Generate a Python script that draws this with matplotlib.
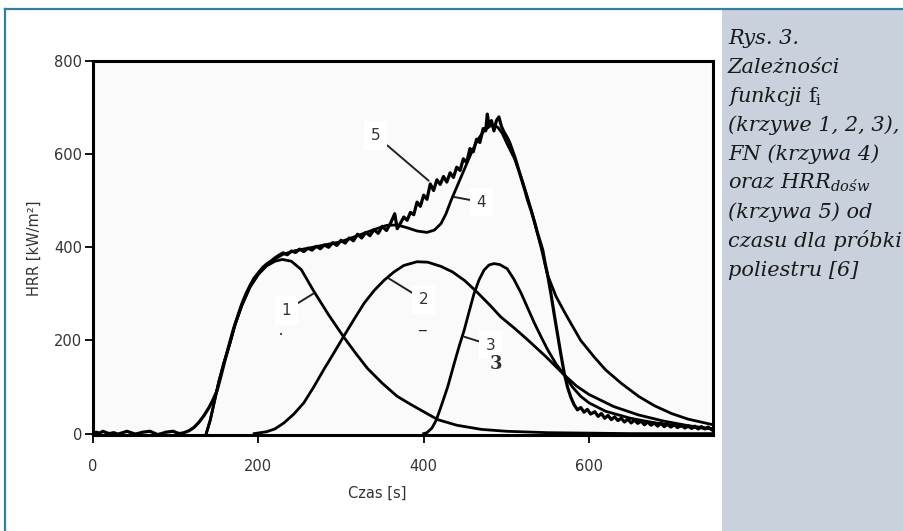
import matplotlib
matplotlib.use("Agg")
from matplotlib import pyplot as plt
from matplotlib.patches import Rectangle
from matplotlib.lines import Line2D

# Krzywa 1 (f1)
c1_x = [137, 142, 147, 152, 158, 165, 172, 180, 190, 200, 210, 220, 229, 240, 252, 267, 285,
        303, 318, 332, 350, 368, 385, 396, 417, 440, 470, 500, 550, 600, 650, 700, 750]
c1_y = [0, 30, 70, 110, 150, 190, 235, 275, 315, 342, 360, 370, 374, 370, 352, 306, 255,
        208, 172, 140, 108, 80, 62, 51, 30, 18, 9, 5, 2, 1, 0, 0, 0]

# Krzywa 2 (f2)
c2_x = [195, 210, 220, 231, 243, 255, 267, 279, 291, 303, 316, 328, 340, 352, 364, 376, 392, 405,
        421, 435, 450, 465, 480, 493, 510, 526, 548, 570, 585, 600, 630, 660, 690, 720, 750]
c2_y = [0, 4, 10, 23, 42, 66, 100, 137, 172, 208, 246, 280, 307, 329, 347, 361, 369, 368,
        359, 347, 328, 303, 276, 251, 226, 201, 165, 126, 102, 84, 58, 40, 27, 17, 10]

# Krzywa 3 (f3)
c3_x = [400, 404, 410, 415, 421, 429, 437, 443, 449, 455, 461, 467, 473, 479, 485, 492, 501,
        509, 518, 526, 534, 542, 550, 560, 570, 580, 590, 600, 620, 650, 680, 710, 750]
c3_y = [0, 2, 12, 28, 58, 100, 151, 188, 222, 262, 301, 330, 351, 362, 365, 363, 354,
        332, 301, 269, 237, 208, 180, 150, 126, 100, 80, 66, 48, 33, 23, 16, 10]

# Krzywa 4 (FN)
c4_x = [137, 142, 147, 152, 158, 165, 172, 180, 190, 200, 210, 220, 230, 245, 260, 280, 300,
        320, 340, 355, 368, 380, 392, 404, 413, 421, 427, 433, 439, 445, 451, 457, 465, 473,
        480, 485, 490, 495, 501, 510, 518, 526, 534, 542, 550, 560, 570, 578, 590, 606, 620,
        639, 660, 679, 700, 720, 750]
c4_y = [0, 30, 70, 110, 150, 190, 235, 275, 315, 342, 362, 375, 385, 393, 398, 405, 412,
        425, 438, 447, 448, 442, 435, 432, 437, 451, 472, 500, 525, 550, 575, 600, 630, 650,
        660, 662, 657, 645, 622, 590, 550, 505, 455, 400, 340, 295, 262, 237, 200, 165, 137,
        108, 80, 60, 43, 31, 19]

# Krzywa 5 (HRR doswiadczalne)
exp_base_x = [0, 4, 8, 12, 16, 20, 25, 30, 36, 41, 46, 51, 56, 60, 65, 69, 74, 78, 83, 88,
              93, 97, 101, 105, 110]
exp_base_y = [-2, 3, 1, 5, 2, 0, 2, -1, 2, 5, 2, -1, 1, 3, 4, 5, 1, -2, 0, 3, 4, 5, 2, 0, 2]
exp_rise_x = [116, 122, 128, 134, 140, 145, 150, 155, 160, 165, 170, 175, 180, 185, 190, 195,
              200, 205, 210, 215, 220]
exp_rise_y = [6, 13, 24, 38, 55, 72, 92, 125, 160, 193, 225, 252, 278, 300, 318, 334,
              345, 356, 364, 370, 377]
exp_plat_x = [225, 230, 235, 240, 245, 250, 255, 260, 265, 270, 275, 280, 285, 290, 295, 300,
              305, 310, 315, 320, 325, 330, 335, 340, 345, 350, 355, 360]
exp_plat_y = [383, 388, 384, 392, 389, 396, 391, 398, 394, 402, 397, 405, 400, 410, 404, 415,
              409, 420, 414, 428, 420, 432, 425, 438, 430, 445, 436, 452]
exp_peak_x = [365, 368, 372, 376, 380, 384, 388, 392, 396, 400, 404, 408, 412, 416, 420, 424,
              428, 432, 436, 440, 444, 448, 452, 456, 460, 464, 468, 472, 475, 477, 479, 482,
              485, 488, 491, 494, 497, 501, 504, 507, 511, 514, 518, 522, 526, 530, 534, 537,
              541, 544, 547, 550, 554, 558, 562, 566, 570, 574, 578, 582, 586]
exp_peak_y = [472, 440, 452, 465, 458, 475, 470, 497, 488, 512, 503, 536, 522, 545, 535, 552,
              540, 560, 550, 572, 565, 590, 582, 612, 605, 632, 625, 655, 650, 686, 662, 672,
              650, 672, 680, 660, 648, 636, 625, 610, 590, 572, 548, 525, 500, 479, 455, 435,
              412, 394, 365, 340, 300, 255, 212, 170, 130, 100, 78, 62, 51]
exp_tail_x = [590, 594, 598, 602, 607, 611, 615, 619, 623, 627, 631, 635, 639, 643, 647, 651,
              655, 659, 663, 667, 671, 675, 679, 683, 687, 691, 695, 699, 703, 707, 712, 716,
              720, 724, 728, 732, 736, 740, 744, 748]
exp_tail_y = [56, 46, 52, 42, 47, 37, 43, 33, 39, 30, 36, 28, 33, 25, 31, 23,
              29, 22, 27, 19, 25, 18, 23, 16, 22, 15, 20, 14, 19, 13, 18, 12,
              17, 11, 16, 10, 15, 10, 14, 9]

exp_x = exp_base_x + exp_rise_x + exp_plat_x + exp_peak_x + exp_tail_x
exp_y = exp_base_y + exp_rise_y + exp_plat_y + exp_peak_y + exp_tail_y

x_ticks = [0, 200, 400, 600]
y_ticks = [0, 200, 400, 600, 800]

# opisy krzywych: tekst, polozenie tekstu, punkt na krzywej
labels = ["1", "2", "3", "4", "5"]
label_pos = [(234, 265), (400, 287), (481, 190), (470, 497), (342, 640)]
label_tip = [(267, 301), (358, 333), (449, 208), (437, 508), (406, 543)]

caption = ["Rys. 3.", "Zależności", r"funkcji $\mathrm{f}_\mathrm{i}$", "(krzywe 1, 2, 3),",
           "FN (krzywa 4)", r"oraz HRR$_{\mathit{dośw}}$", "(krzywa 5) od",
           "czasu dla próbki", "poliestru [6]"]

plt.rcParams['mathtext.fontset'] = 'custom'
plt.rcParams['mathtext.rm'] = 'DejaVu Serif'
plt.rcParams['mathtext.it'] = 'DejaVu Serif:italic'

W, H = 904, 531
fig = plt.figure(figsize=(W / 100, H / 100), dpi=100)
fig.patch.set_facecolor('white')

# panel z podpisem i ramka
fig.patches.append(Rectangle((722 / W, 0), 182 / W, 1 - 10 / H, transform=fig.transFigure,
                             facecolor='#c9d1dc', edgecolor='none', zorder=0))
fig.lines.append(Line2D([5 / W, 1], [1 - 9 / H, 1 - 9 / H], transform=fig.transFigure,
                        color='#2f7fa0', lw=1.6))
fig.lines.append(Line2D([5 / W, 5 / W], [0, 1 - 9 / H], transform=fig.transFigure,
                        color='#2f7fa0', lw=1.6))

for i, line in enumerate(caption):
    fig.text(728 / W, 1 - (44 + 29 * i) / H, line, fontsize=15, family='DejaVu Serif',
             style='italic', color='#1a1a1a', va='baseline', ha='left')

ax = fig.add_axes([93 / W, 1 - 435 / H, 620 / W, 374 / H])
ax.set_facecolor('#fafafa')

lw = 2.0
ax.plot(c1_x, c1_y, '-', c='black', lw=lw)
ax.plot(c2_x, c2_y, '-', c='black', lw=lw)
ax.plot(c3_x, c3_y, '-', c='black', lw=lw)
ax.plot(c4_x, c4_y, '-', c='black', lw=lw)
ax.plot(exp_x, exp_y, '-', c='black', lw=2.3)

for t, p, tip in zip(labels, label_pos, label_tip):
    ax.annotate(t, xy=tip, xytext=p, ha='center', va='center', fontsize=11, color='#333333',
                bbox=dict(boxstyle='square,pad=0.45', fc='white', ec='none'),
                arrowprops=dict(arrowstyle='-', lw=1.4, color='#222222', shrinkA=0, shrinkB=0))

# slady ze skanu oryginalu
ax.text(228, 212, '•', fontsize=5, ha='center', va='center', color='#222222')
ax.text(398, 236, '_', fontsize=11, ha='center', va='center', color='#222222')
ax.text(487, 150, '3', fontsize=13, family='DejaVu Serif', fontweight='bold',
        ha='center', va='center', color='#333333')

ax.set_xlim(0, 750)
ax.set_ylim(-3, 800)
ax.set_xticks(x_ticks)
ax.set_yticks(y_ticks)
for s in ax.spines.values():
    s.set_linewidth(2.2)
ax.tick_params(direction='out', length=6, width=1.3, labelsize=10.5, labelcolor='#333333')
ax.tick_params(axis='x', pad=11)
ax.tick_params(axis='y', pad=2)

ax.set_xlabel("Czas [s]", fontsize=10.5, color='#333333')
ax.xaxis.set_label_coords(0.458, -0.135)
ax.set_ylabel("HRR [kW/m²]", fontsize=10.5, color='#333333')
ax.yaxis.set_label_coords(-0.082, 0.5)

plt.savefig("out.png", dpi=100)
